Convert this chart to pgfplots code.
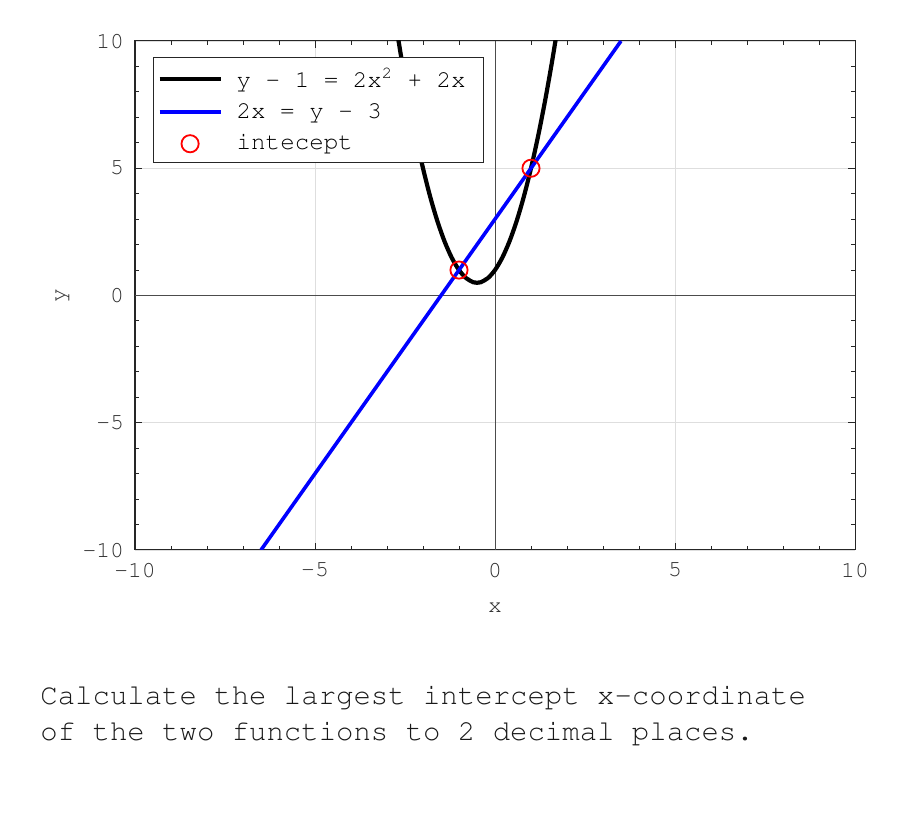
\documentclass[border=0pt]{standalone}
\usepackage[T1]{fontenc}
\usepackage{courier}
\usepackage{pgfplots}
\pgfplotsset{compat=1.18}
\renewcommand{\familydefault}{\ttdefault}
\pgfplotsset{
  linelegend/.style={legend image code/.code={\draw[##1] (0pt,0pt) -- (30.5pt,0pt);}},
  marklegend/.style={legend image code/.code={\draw[mark repeat=2,mark phase=2,##1] plot coordinates {(0pt,0pt) (15.25pt,0pt) (30.5pt,0pt)};}},
}
\newcommand{\mn}{\textendash}
\begin{document}
\begin{tikzpicture}
\path[use as bounding box] (0,0) rectangle (450pt,412.5pt);
\begin{axis}[
  at={(67.5pt,137.5pt)}, anchor=south west,
  width=360pt, height=254.5pt, scale only axis,
  xmin=-10, xmax=10, ymin=-10, ymax=10,
  xtick={-10,-5,0,5,10}, ytick={-10,-5,0,5,10},
  xticklabels={\mn10,\mn5,0,5,10}, yticklabels={\mn10,\mn5,0,5,10},
  minor tick num=4,
  tick align=inside, tick pos=both,
  major tick length=3.5pt, minor tick length=1.8pt,
  grid=major, major grid style={black!13, line width=0.4pt},
  axis line style={black!85, line width=0.5pt},
  tick style={black!85, line width=0.5pt},
  ticklabel style={font=\fontsize{11.5}{13}\selectfont, text=black!82},
  xticklabel style={yshift=-3pt},
  yticklabel style={xshift=-2pt},
  xlabel={x}, ylabel={y},
  label style={font=\fontsize{11.5}{13}\selectfont, text=black!82},
  xlabel style={at={(axis description cs:0.5,-0.113)}, anchor=center},
  ylabel style={at={(axis description cs:-0.1014,0.5)}, anchor=center},
  legend style={at={(0.025,0.9686)}, anchor=north west, draw=black!85, fill=white,
    line width=0.5pt, font=\fontsize{12.1}{14}\selectfont, row sep=2.5pt,
    inner xsep=2pt, inner ysep=3pt,
    nodes={inner xsep=7pt}},
  legend cell align=left,
  clip=true,
]
% coordinate axes through the origin
\draw[black!70, line width=0.5pt] (axis cs:-10,0) -- (axis cs:10,0);
\draw[black!70, line width=0.5pt] (axis cs:0,-10) -- (axis cs:0,10);

% y = 2x^2 + 2x + 1
\addplot[black, line width=2.1pt, smooth, linelegend]
  coordinates {
  (-2.8,11.08) (-2.6,9.32) (-2.4,7.72) (-2.2,6.28) (-2.0,5) (-1.8,3.88)
  (-1.6,2.92) (-1.4,2.12) (-1.2,1.48) (-1.0,1) (-0.8,0.68) (-0.6,0.52)
  (-0.5,0.5) (-0.4,0.52) (-0.2,0.68) (0,1) (0.2,1.48) (0.4,2.12)
  (0.6,2.92) (0.8,3.88) (1.0,5) (1.2,6.28) (1.4,7.72) (1.6,9.32) (1.8,11.08)
  };
\addlegendentry{y - 1 = 2x\textsuperscript{2} + 2x}

% y = 2x + 3
\addplot[blue, line width=1.8pt, linelegend]
  coordinates {(-6.5,-10) (3.5,10)};
\addlegendentry{2x = y - 3}

% intersection points
\addplot[only marks, mark=o, mark size=4.3pt, red, mark options={line width=0.9pt}, marklegend]
  coordinates {(-1,1) (1,5)};
\addlegendentry{intecept}
\end{axis}
\node[anchor=base west, inner sep=0pt, font=\fontsize{14.5}{18}\selectfont, text=black!90] at (20pt,60pt)
  {Calculate the largest intercept x-coordinate};
\node[anchor=base west, inner sep=0pt, font=\fontsize{14.5}{18}\selectfont, text=black!90] at (20pt,42pt)
  {of the two functions to 2 decimal places.};
\end{tikzpicture}
\end{document}
